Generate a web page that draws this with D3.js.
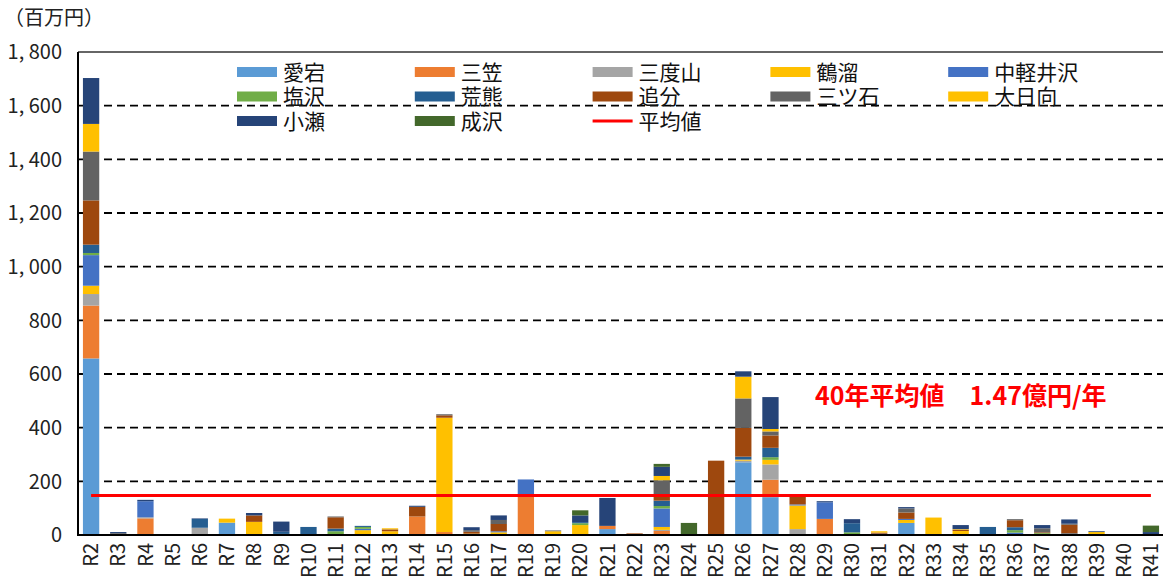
<!DOCTYPE html>
<html>
<head>
<meta charset="utf-8">
<script src="https://cdn.jsdelivr.net/npm/d3@7"></script>
<style>
  body { margin: 0; background: #fff; }
  text { font-family: "Noto Sans CJK JP", "Noto Sans", sans-serif; }
</style>
</head>
<body>
<div id="chart"></div>
<script>
var width = 1163;
var height = 581;

// 年次（R2〜R41）
var categories = ["R2","R3","R4","R5","R6","R7","R8","R9","R10","R11",
  "R12","R13","R14","R15","R16","R17","R18","R19","R20","R21",
  "R22","R23","R24","R25","R26","R27","R28","R29","R30","R31",
  "R32","R33","R34","R35","R36","R37","R38","R39","R40","R41"];

// 地区別の値（百万円）
var atago         = [658,0,0,0,0,46,0,0,0,0, 0,0,0,0,0,0,0,0,0,22, 0,0,0,0,271,141,0,0,0,0, 45,0,0,0,0,0,0,0,0,0];
var mikasa        = [197,0,62,0,0,0,0,0,0,0, 0,0,69,11,0,0,145,0,0,12, 0,15,0,0,0,65,0,60,0,0, 0,0,0,0,0,0,0,0,0,0];
var sandoyama     = [43,0,4,0,27,0,0,0,0,0, 0,0,0,0,0,0,0,0,0,0, 0,4,0,0,6,57,22,0,0,0, 0,0,0,0,0,0,0,0,0,0];
var tsurudamari   = [31,0,0,0,0,15,49,4,0,0, 18,14,0,426,5,10,0,14,37,0, 0,11,0,0,4,17,88,0,0,0, 11,65,15,0,0,4,0,11,0,0];
var nakakaruizawa = [114,0,60,0,0,0,0,0,0,0, 5,0,0,0,0,4,62,0,0,0, 0,69,0,0,0,0,4,62,0,5, 4,0,0,0,9,0,0,0,0,0];
var shiozawa      = [8,0,0,0,0,0,0,0,0,14, 7,0,0,0,0,0,0,0,7,0, 0,9,0,0,0,10,0,0,10,0, 0,0,0,0,9,3,0,0,0,0];
var arakuma       = [31,4,0,0,33,0,0,8,30,10, 4,0,0,0,0,0,0,0,4,0, 0,20,0,0,11,35,0,0,34,0, 0,0,0,30,11,0,6,0,0,3];
var oiwake        = [165,0,0,0,0,0,24,0,0,42, 0,7,36,9,7,27,0,0,0,0, 6,16,0,277,107,46,30,0,0,4, 24,0,5,0,26,3,32,0,0,0];
var mitsuishi     = [182,3,0,0,0,0,0,0,0,3, 0,0,0,4,6,15,0,3,0,0, 0,60,0,0,110,15,2,0,0,0, 15,0,0,0,4,15,4,0,0,0];
var ohinata       = [103,0,0,0,0,0,0,0,0,0, 0,4,0,0,0,0,0,0,0,0, 0,16,0,0,81,9,0,0,0,5, 0,0,2,0,0,0,0,0,0,0];
var ose           = [171,4,5,0,2,0,9,38,0,0, 0,0,4,0,11,17,0,0,25,104, 0,34,0,0,20,119,0,4,15,0, 5,0,15,0,0,12,16,3,0,8];
var narusawa      = [0,0,0,0,0,0,0,0,0,0, 0,0,0,0,0,0,0,0,19,0, 0,11,45,0,0,0,0,0,0,0, 0,0,0,0,0,0,0,0,0,24];

var average = 147; // 40年平均値（百万円）
var yTicks = [0, 200, 400, 600, 800, 1000, 1200, 1400, 1600, 1800];

var seriesNames  = ["愛宕","三笠","三度山","鶴溜","中軽井沢","塩沢","荒熊","追分","三ツ石","大日向","小瀬","成沢"];
var seriesValues = [atago, mikasa, sandoyama, tsurudamari, nakakaruizawa, shiozawa, arakuma, oiwake, mitsuishi, ohinata, ose, narusawa];
var seriesColors = ["#5b9bd5","#ed7d31","#a5a5a5","#ffc000","#4472c4","#70ad47","#255e91","#9e480e","#636363","#ffc000","#264478","#43682b"];

var plotLeft = 78, plotTop = 52, plotRight = 1164.5, plotBottom = 535;

var svg = d3.select("#chart").append("svg")
  .attr("width", width)
  .attr("height", height);

var x = d3.scaleBand()
  .domain(categories)
  .range([plotLeft - 0.5, plotRight])
  .paddingInner(0.4)
  .paddingOuter(0.2);

var y = d3.scaleLinear()
  .domain([0, 1800])
  .range([plotBottom, plotTop]);

// stack rows
var rows = categories.map(function(c, i) {
  var r = { cat: c };
  seriesNames.forEach(function(n, k) { r[n] = seriesValues[k][i]; });
  return r;
});
var stack = d3.stack().keys(seriesNames)(rows);

// gridlines
svg.append("g")
  .selectAll("line")
  .data(yTicks.filter(function(t) { return t > 0 && t < 1800; }))
  .enter().append("line")
  .attr("x1", plotLeft)
  .attr("x2", width)
  .attr("y1", function(d) { return y(d); })
  .attr("y2", function(d) { return y(d); })
  .attr("stroke", "#000")
  .attr("stroke-width", 1.8)
  .attr("stroke-dasharray", "8,5");

// bars
svg.append("g")
  .selectAll("g")
  .data(stack)
  .enter().append("g")
  .attr("fill", function(d, i) { return seriesColors[i]; })
  .selectAll("rect")
  .data(function(d) { return d.filter(function(p) { return p[1] - p[0] > 0; }); })
  .enter().append("rect")
  .attr("x", function(d) { return x(d.data.cat); })
  .attr("width", x.bandwidth())
  .attr("y", function(d) { return y(d[1]); })
  .attr("height", function(d) { return y(d[0]) - y(d[1]); });

// average line
var avgLine = d3.line()
  .x(function(d) { return x(d) + x.bandwidth() / 2; })
  .y(function() { return y(average); });

svg.append("path")
  .datum(categories)
  .attr("d", avgLine)
  .attr("fill", "none")
  .attr("stroke", "#ff0000")
  .attr("stroke-width", 3);

// frame
svg.append("line")
  .attr("x1", plotLeft).attr("x2", width)
  .attr("y1", plotTop).attr("y2", plotTop)
  .attr("stroke", "#333").attr("stroke-width", 1.5);
svg.append("line")
  .attr("x1", plotLeft).attr("x2", plotLeft)
  .attr("y1", plotTop).attr("y2", plotBottom + 1)
  .attr("stroke", "#000").attr("stroke-width", 2);
svg.append("line")
  .attr("x1", plotLeft - 1).attr("x2", width)
  .attr("y1", plotBottom).attr("y2", plotBottom)
  .attr("stroke", "#000").attr("stroke-width", 2);

// y axis labels
svg.append("g")
  .selectAll("text")
  .data(yTicks)
  .enter().append("text")
  .attr("x", 62)
  .attr("y", function(d) { return y(d); })
  .attr("dy", "0.36em")
  .attr("text-anchor", "end")
  .attr("font-size", 20)
  .attr("fill", "#222")
  .text(function(d) { return d3.format(",")(d).replace(",", ", "); });

svg.append("text")
  .attr("x", 4)
  .attr("y", 25)
  .attr("font-size", 20)
  .attr("fill", "#222")
  .text("（百万円）");

// x axis labels
svg.append("g")
  .selectAll("text")
  .data(categories)
  .enter().append("text")
  .attr("transform", function(d) {
    return "translate(" + (x(d) + x.bandwidth() / 2) + "," + (plotBottom + 8) + ") rotate(-90)";
  })
  .attr("dy", "0.36em")
  .attr("text-anchor", "end")
  .attr("font-size", 20)
  .attr("fill", "#222")
  .text(function(d) { return d; });

// legend
var legendItems = seriesNames.map(function(n, i) { return { name: n, color: seriesColors[i], line: false }; });
legendItems.push({ name: "平均値", color: "#ff0000", line: true });

var legend = svg.append("g")
  .selectAll("g")
  .data(legendItems)
  .enter().append("g")
  .attr("transform", function(d, i) {
    return "translate(" + (237 + (i % 5) * 177.8) + "," + (72 + Math.floor(i / 5) * 24.5) + ")";
  });

legend.append("rect")
  .attr("x", 0)
  .attr("y", function(d) { return d.line ? -1.5 : -5; })
  .attr("width", 40)
  .attr("height", function(d) { return d.line ? 3 : 10; })
  .attr("fill", function(d) { return d.color; });

legend.append("text")
  .attr("x", 46)
  .attr("dy", "0.36em")
  .attr("font-size", 21)
  .attr("fill", "#111")
  .text(function(d) { return d.name; });

// annotation
svg.append("text")
  .attr("x", 815)
  .attr("y", 396)
  .attr("dy", "0.36em")
  .attr("font-size", 25)
  .attr("font-weight", "bold")
  .attr("fill", "#ff0000")
  .text("40年平均値　1.47億円/年");
</script>
</body>
</html>
